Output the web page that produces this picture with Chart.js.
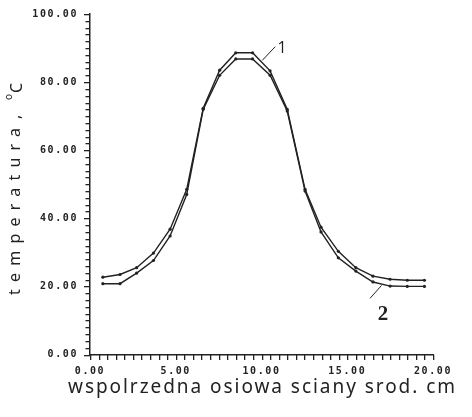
<!DOCTYPE html>
<html>
<head>
<meta charset="utf-8">
<script src="https://cdn.jsdelivr.net/npm/chart.js@4"></script>
<style>
html,body{margin:0;padding:0;background:#fff;}
canvas{display:block;}
</style>
</head>
<body>
<canvas id="c" width="472" height="417"></canvas>
<script>
// ---- data ----
const xPositions = [0.75,1.75,2.72,3.7,4.67,5.64,6.6,7.56,8.5,9.48,10.5,11.5,12.54,13.47,14.48,15.5,16.5,17.5,18.5,19.5];
const series1 = [22.7,23.5,25.5,29.8,36.8,48.5,72.3,83.5,88.6,88.6,83.3,72.0,48.5,37.4,30.3,25.5,23.0,22.1,21.8,21.8];
const series2 = [20.8,20.8,23.9,27.6,34.8,47.0,72.0,82.0,86.8,86.8,82.0,71.5,48.0,36.0,28.4,24.5,21.3,20.1,20.0,20.0];
const seriesLabels = ['1','2'];
const xTitle = 'wspolrzedna osiowa sciany srod. cm';
const yTitleMain = 'temperatura';
const yTitleUnit = 'C';
const xRange = [0, 20], yRange = [0, 100];
const xMinorStep = 0.5, yMinorStep = 2;

const ink = '#222222';

function fitText(ctx, text, x, y, width) {
  ctx.letterSpacing = '0px';
  const w = ctx.measureText(text).width;
  const n = text.length;
  const sp = n > 1 ? (width - w) / (n - 1) : 0;
  ctx.letterSpacing = sp + 'px';
  ctx.textAlign = 'left';
  ctx.fillText(text, x, y);
  ctx.letterSpacing = '0px';
}

function drawTicks(chart) {
  const ctx = chart.ctx;
  const xs = chart.scales.x, ys = chart.scales.y;
  const area = chart.chartArea;
  const xb = Math.round(area.bottom);
  const yl = Math.round(area.left);
  ctx.save();
  ctx.fillStyle = ink;
  const nx = Math.round((xRange[1] - xRange[0]) / xMinorStep);
  for (let i = 0; i <= nx; i++) {
    const px = Math.round(xs.getPixelForValue(xRange[0] + i * xMinorStep));
    ctx.fillRect(px, xb, 1.3, 5);
  }
  const ny = Math.round((yRange[1] - yRange[0]) / yMinorStep);
  for (let i = 0; i <= ny; i++) {
    const v = yRange[0] + i * yMinorStep;
    const py = Math.round(ys.getPixelForValue(v));
    const len = (v % 20 === 0) ? 6 : 4.5;
    ctx.fillRect(yl - len, py, len, 1.3);
  }
  ctx.restore();
}

const decor = {
  id: 'decor',
  beforeDraw(chart) {
    chart.ctx.letterSpacing = '1.6px';
  },
  beforeDatasetsDraw(chart) {
    chart.ctx.letterSpacing = '0px';
  },
  afterDraw(chart) {
    const ctx = chart.ctx;
    const xs = chart.scales.x, ys = chart.scales.y;
    const P = (x, y) => [xs.getPixelForValue(x), ys.getPixelForValue(y)];
    drawTicks(chart);
    ctx.save();
    ctx.letterSpacing = '0px';
    ctx.fillStyle = ink;
    ctx.strokeStyle = ink;
    ctx.textBaseline = 'alphabetic';

    // x title
    ctx.font = '19px "Noto Sans"';
    fitText(ctx, xTitle, 68, 393, 387);

    // y title (rotated)
    ctx.save();
    ctx.translate(20, 0);
    ctx.rotate(-Math.PI / 2);
    ctx.font = '16px "Noto Sans"';
    fitText(ctx, yTitleMain, -295, 0, 167);
    ctx.fillText(',', -119, 0);
    ctx.font = '10px "Noto Sans"';
    ctx.fillText('o', -100, -8);
    ctx.font = '16px "Noto Sans"';
    ctx.fillText(yTitleUnit, -93, 2);
    ctx.restore();

    // series labels with leader lines
    ctx.lineWidth = 1;
    let a = P(10.05, 86.4), b = P(10.8, 90.4);
    ctx.beginPath(); ctx.moveTo(a[0], a[1]); ctx.lineTo(b[0], b[1]); ctx.stroke();
    ctx.font = '16px "Open Sans"';
    ctx.textAlign = 'center';
    let t = P(11.2, 88.5);
    ctx.fillText(seriesLabels[0], t[0], t[1]);

    a = P(16.33, 16.5); b = P(17.0, 20.3);
    ctx.beginPath(); ctx.moveTo(a[0], a[1]); ctx.lineTo(b[0], b[1]); ctx.stroke();
    ctx.font = 'bold 21px "Liberation Serif"';
    t = P(17.08, 10.0);
    ctx.fillText(seriesLabels[1], t[0], t[1]);
    ctx.restore();
  }
};

const mkData = (vals) => xPositions.map((x, i) => ({x: x, y: vals[i]}));

new Chart(document.getElementById('c'), {
  type: 'line',
  data: {
    datasets: [
      {label: seriesLabels[0], data: mkData(series1), borderColor: ink, backgroundColor: ink,
       borderWidth: 1.4, pointRadius: 1.6, pointBackgroundColor: ink, pointBorderWidth: 0, tension: 0},
      {label: seriesLabels[1], data: mkData(series2), borderColor: ink, backgroundColor: ink,
       borderWidth: 1.4, pointRadius: 1.6, pointBackgroundColor: ink, pointBorderWidth: 0, tension: 0}
    ]
  },
  options: {
    responsive: false,
    animation: false,
    devicePixelRatio: 1,
    layout: {padding: {left: 0, right: 39, top: 14, bottom: 0}},
    plugins: {legend: {display: false}, tooltip: {enabled: false}},
    scales: {
      x: {
        type: 'linear', min: xRange[0], max: xRange[1],
        afterFit: (s) => { s.height = 62.5; },
        border: {display: true, color: ink, width: 1.5},
        grid: {display: false, tickLength: 4},
        ticks: {
          stepSize: 5, autoSkip: false, maxRotation: 0, padding: 7,
          color: ink, font: {family: '"DejaVu Sans Mono"', size: 10, weight: 'bold'},
          callback: (v) => Number(v).toFixed(2)
        }
      },
      y: {
        type: 'linear', min: yRange[0], max: yRange[1],
        afterFit: (s) => { s.width = 90; },
        border: {display: true, color: ink, width: 1.5},
        grid: {display: false, tickLength: 4},
        ticks: {
          stepSize: 20, autoSkip: false, padding: 8,
          color: ink, font: {family: '"DejaVu Sans Mono"', size: 10, weight: 'bold'},
          callback: (v) => Number(v).toFixed(2)
        }
      }
    }
  },
  plugins: [decor]
});
</script>
</body>
</html>
